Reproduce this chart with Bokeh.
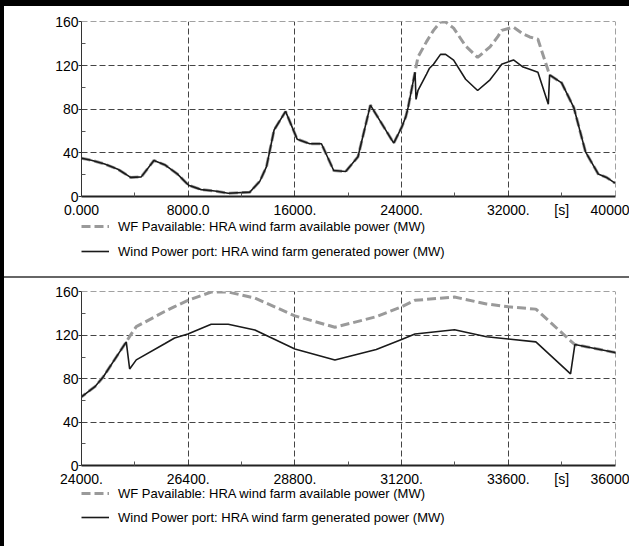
from bokeh.plotting import figure
from bokeh.layouts import column
from bokeh.models import Range1d, FixedTicker, Legend, LegendItem
from bokeh.embed import file_html
from bokeh.resources import INLINE

# ---- data (time in s, power in MW) ----
time_s = [0, 735, 1740, 2730, 3685, 4480, 5430, 6280, 7180, 8030, 8975, 10000, 11000,
          12620, 13370, 13870, 14440, 15300, 16170, 17115, 17990, 18910, 19810, 20730,
          21660, 23410, 24000, 24310, 24483, 25007, 25083, 25232, 25870, 26094, 26393,
          26917, 27300, 27900, 28800, 29700, 30630, 31200, 31500, 32390, 33110, 33600,
          34220, 35000, 35097, 36000, 36915, 37790, 38740, 39365, 40000]
generated_mw = [35, 33.3, 29.7, 25, 17.5, 18, 33, 28.8, 20.7, 10.3, 6.3, 5, 3,
                4, 14, 27.4, 61, 78, 52.6, 48.4, 48.4, 23.8, 22.9, 36.4,
                83.8, 49, 63.3, 73, 81.4, 114, 89, 97.4, 112.3, 117.6, 121.3,
                130.3, 130.3, 125, 107.5, 97.2, 107, 116.1, 121.2, 125.2, 118.7, 116.7,
                114, 84.5, 111.5, 104.2, 81.4, 40.9, 20.7, 17.5, 12.3]
available_mw = [35, 33.3, 29.7, 25, 17.5, 18, 33, 28.8, 20.7, 10.3, 6.3, 5, 3,
                4, 14, 27.4, 61, 78, 52.6, 48.4, 48.4, 23.8, 22.9, 36.4,
                83.8, 49, 63.3, 73, 81.4, 114, 119, 128, 142, 146.5, 152.3,
                160, 160, 154.4, 138, 127.5, 137.2, 146.3, 152.3, 155.3, 149, 146.3,
                144.2, 115, 111.5, 104.2, 81.4, 40.9, 20.7, 17.5, 12.3]

label_avail = "WF Pavailable: HRA wind farm available power (MW)"
label_gen = "Wind Power port: HRA wind farm generated power (MW)"

y_ticks = [0, 40, 80, 120, 160]
y_minor = [20, 60, 100, 140]

top_x_ticks = [0, 8000, 16000, 24000, 32000, 36000, 40000]
top_x_labels = ["0.000", "8000.0", "16000.", "24000.", "32000.", "[s]", "40000"]
top_x_grid = [0, 8000, 16000, 24000, 32000, 40000]
top_x_minor = [4000, 12000, 20000, 28000, 36000]

bot_x_ticks = [24000, 26400, 28800, 31200, 33600, 34800, 36000]
bot_x_labels = ["24000.", "26400.", "28800.", "31200.", "33600.", "[s]", "36000"]
bot_x_grid = [24000, 26400, 28800, 31200, 33600, 36000]
bot_x_minor = [25200, 27600, 30000, 32400, 34800]

FONT = "Liberation Sans"
W = 625          # canvas width (4px left border added by CSS)
LEFT = 77
FRAME_W = 534
GRID = "#444444"
AVAIL_STYLE = dict(line_color="#9a9a9a", line_width=3, line_dash="9 4")
GEN_STYLE = dict(line_color="#1a1a1a", line_width=1.6)
NAN = float("nan")


def make_plot(height, top, frame_h, x0, x1, xticks, xlabels, xgrid, xminor, styles):
    bottom = height - top - frame_h
    p = figure(width=W, height=height,
               x_range=Range1d(x0, x1 + (x1 - x0) * 0.5 / FRAME_W),
               y_range=Range1d(0, 160 + 160 * 0.5 / frame_h),
               output_backend="svg", toolbar_location=None,
               min_border_left=LEFT, min_border_right=W - LEFT - FRAME_W,
               min_border_top=top, min_border_bottom=bottom, styles=styles)
    p.outline_line_color = None
    p.background_fill_color = "white"
    p.border_fill_color = "white"

    p.line(time_s, available_mw, **AVAIL_STYLE)
    p.line(time_s, generated_mw, **GEN_STYLE)

    p.xaxis.ticker = FixedTicker(ticks=xticks, minor_ticks=xminor)
    p.xaxis.major_label_overrides = {t: l for t, l in zip(xticks, xlabels)}
    p.yaxis.ticker = FixedTicker(ticks=y_ticks, minor_ticks=y_minor)
    for ax in (p.xaxis[0], p.yaxis[0]):
        ax.major_label_text_font = FONT
        ax.major_label_text_font_size = "14px"
        ax.major_label_text_color = "black"
        ax.major_tick_in = 0
        ax.minor_tick_in = 4
        ax.minor_tick_out = 0
        ax.major_tick_line_color = "#333333"
        ax.minor_tick_line_color = "#555555"
    p.xaxis.major_tick_out = 0
    p.xaxis.major_label_standoff = 5
    p.yaxis.major_tick_out = 3
    p.yaxis.major_label_standoff = 0
    p.xaxis.axis_line_width = 2
    p.xaxis.axis_line_color = "#222222"
    p.yaxis.axis_line_width = 1
    p.yaxis.axis_line_color = "#333333"

    p.xgrid.ticker = FixedTicker(ticks=xgrid)
    p.ygrid.ticker = FixedTicker(ticks=y_ticks)
    for g in (p.xgrid[0], p.ygrid[0]):
        g.grid_line_color = GRID
        g.grid_line_dash = "6 3"
        g.grid_line_width = 1
    return p


def make_legend(height, legend_y, spacing):
    lg = figure(width=W, height=height, x_range=Range1d(0, 1), y_range=Range1d(0, 1),
                output_backend="svg", toolbar_location=None,
                x_axis_location=None, y_axis_location=None, min_border=0)
    lg.outline_line_color = None
    lg.background_fill_color = "white"
    lg.border_fill_color = "white"
    for g in list(lg.xgrid) + list(lg.ygrid):
        g.visible = False
    # legend-only renderers (no visible data in this strip)
    r_av = lg.line(x=[NAN, NAN], y=[NAN, NAN], **AVAIL_STYLE)
    r_gen = lg.line(x=[NAN, NAN], y=[NAN, NAN], **GEN_STYLE)
    legend = Legend(items=[LegendItem(label=label_avail, renderers=[r_av]),
                           LegendItem(label=label_gen, renderers=[r_gen])],
                    location=(0, legend_y), orientation="vertical",
                    padding=0, margin=0, spacing=spacing,
                    glyph_width=28, glyph_height=16, label_height=16,
                    label_standoff=9, label_text_font=FONT,
                    label_text_font_size="13px", label_text_color="black",
                    border_line_alpha=0, background_fill_alpha=0)
    lg.add_layout(legend)
    return lg


p1 = make_plot(214, 15, 178, 0, 40000, top_x_ticks, top_x_labels,
               top_x_grid, top_x_minor, {})
leg1 = make_legend(56, 17, 9)
p2 = make_plot(211, 13, 177, 24000, 36000, bot_x_ticks, bot_x_labels,
               bot_x_grid, bot_x_minor, {"border-top": "2px solid #666666"})
leg2 = make_legend(59, 21, 8)

layout = column(p1, leg1, p2, leg2, spacing=0,
                styles={"border-left": "4px solid black", "border-top": "6px solid black"})
open("out.html", "w").write(file_html(layout, INLINE))
